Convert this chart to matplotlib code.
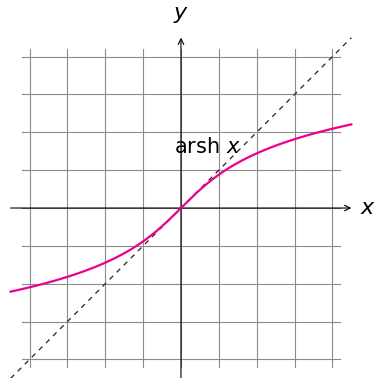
import matplotlib
matplotlib.use("Agg")
import matplotlib.pyplot as plt
import numpy as np

plt.rcParams["mathtext.fontset"] = "dejavusans"

# domain and grid
x_min, x_max = -4.5, 4.5
grid_ticks = [-4, -3, -2, -1, 0, 1, 2, 3, 4]
grid_extent = 4.2
curve_label = r"arsh $x$"

xs = np.linspace(x_min, x_max, 400)

fig = plt.figure(figsize=(3.75, 3.78), dpi=100)
ax = fig.add_axes([0, 0, 1, 1])
ax.set_xlim(-4.78, 5.125)
ax.set_ylim(-4.49, 5.495)
ax.set_aspect("equal")
ax.axis("off")

for t in grid_ticks:
    ax.plot([t, t], [-grid_extent, grid_extent], color="#8c8c8c", lw=0.8, zorder=1)
    ax.plot([-grid_extent, grid_extent], [t, t], color="#8c8c8c", lw=0.8, zorder=1)

# axes with arrows
arrow = dict(arrowstyle="->", color="black", lw=0.8, shrinkA=0, shrinkB=0)
ax.annotate("", xy=(x_max, 0), xytext=(x_min, 0), arrowprops=arrow, zorder=2)
ax.annotate("", xy=(0, x_max), xytext=(0, x_min), arrowprops=arrow, zorder=2)
ax.text(4.94, 0, r"$x$", fontsize=16, ha="center", va="center")
ax.text(0, 5.1, r"$y$", fontsize=16, ha="center", va="center")

# identity (dashed) under the arsinh curve
ax.plot(xs, xs, color="#222222", lw=0.9, ls=(0, (4, 4)), zorder=3)
ax.plot(xs, np.arcsinh(xs), color="#ec008c", lw=1.6, zorder=4)
ax.text(0.69, 1.61, curve_label, fontsize=15, ha="center", va="center", zorder=5)

fig.savefig("out.png", dpi=100)
